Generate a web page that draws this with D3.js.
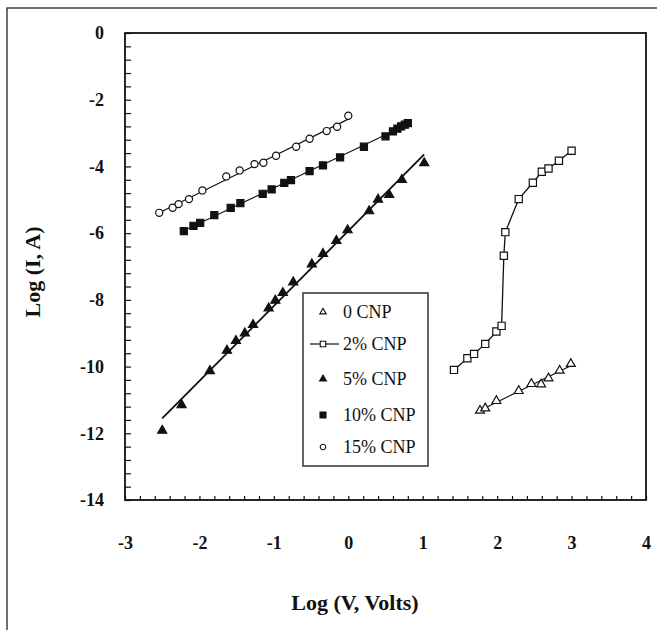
<!DOCTYPE html>
<html>
<head>
<meta charset="utf-8">
<script src="https://cdn.jsdelivr.net/npm/d3@7"></script>
<style>
  body { margin: 0; background: #fff; }
  text { font-family: "Liberation Serif", "Times New Roman", serif; }
</style>
</head>
<body>
<div id="chart"></div>
<script>
// data (log V, log I)
const cnp0X = [1.77, 1.84, 1.99, 2.29, 2.46, 2.59, 2.69, 2.84, 2.99];
const cnp0Y = [-11.32, -11.25, -11.03, -10.73, -10.52, -10.53, -10.35, -10.12, -9.92];

const cnp2X = [1.42, 1.60, 1.69, 1.84, 1.99, 2.06, 2.09, 2.11, 2.29, 2.48, 2.60, 2.69, 2.83, 3.00];
const cnp2Y = [-10.10, -9.75, -9.62, -9.32, -8.95, -8.78, -6.68, -5.97, -4.98, -4.49, -4.16, -4.06, -3.83, -3.53];

const cnp5X = [-2.50, -2.24, -1.86, -1.63, -1.51, -1.39, -1.28, -1.07, -0.98, -0.88, -0.74, -0.49, -0.34, -0.16, -0.01, 0.28, 0.40, 0.55, 0.72, 1.02];
const cnp5Y = [-11.92, -11.15, -10.13, -9.52, -9.23, -9.00, -8.75, -8.25, -8.02, -7.79, -7.47, -6.93, -6.62, -6.23, -5.91, -5.34, -4.99, -4.85, -4.40, -3.90];

const cnp10X = [-2.21, -2.08, -1.99, -1.80, -1.58, -1.45, -1.15, -1.03, -0.86, -0.77, -0.52, -0.34, -0.11, 0.21, 0.50, 0.60, 0.66, 0.71, 0.76, 0.80];
const cnp10Y = [-5.94, -5.78, -5.69, -5.46, -5.24, -5.10, -4.82, -4.69, -4.49, -4.41, -4.14, -3.97, -3.73, -3.41, -3.10, -2.95, -2.87, -2.80, -2.75, -2.70];

const cnp15X = [-2.54, -2.36, -2.28, -2.14, -1.96, -1.64, -1.46, -1.26, -1.14, -0.97, -0.70, -0.52, -0.29, -0.15, 0.00];
const cnp15Y = [-5.39, -5.24, -5.13, -4.98, -4.72, -4.30, -4.12, -3.93, -3.89, -3.68, -3.41, -3.17, -2.94, -2.81, -2.48];

const xTicks = [-3, -2, -1, 0, 1, 2, 3, 4];
const yTicks = [0, -2, -4, -6, -8, -10, -12, -14];
const legendLabels = ["0 CNP", "2% CNP", "5% CNP", "10% CNP", "15% CNP"];

const W = 657, H = 630;
const plot = { left: 125, right: 646, top: 33, bottom: 500 };

const svg = d3.select("#chart").append("svg")
  .attr("width", W).attr("height", H);

// outer figure frame (right/bottom edges fall outside the picture)
svg.append("rect")
  .attr("x", 7).attr("y", 8).attr("width", 700).attr("height", 700)
  .attr("fill", "none").attr("stroke", "#222").attr("stroke-width", 1.3);

const x = d3.scaleLinear().domain([-3, 4]).range([plot.left, plot.right]);
const y = d3.scaleLinear().domain([-14, 0]).range([plot.bottom, plot.top]);

// plain hyphen labels like the original
const fmt = d => String(d);

// minor ticks pointing inward
const xMinor = d3.range(-3, 4.001, 0.2).map(v => +v.toFixed(1));
const yMinor = d3.range(-14, 0.001, 0.4).map(v => +v.toFixed(1));

svg.append("g")
  .attr("transform", `translate(0,${plot.bottom})`)
  .call(d3.axisBottom(x).tickValues(xMinor).tickSize(-4).tickFormat(""))
  .call(g => g.select(".domain").remove())
  .selectAll("line").attr("stroke", "#111").attr("stroke-width", 1.2);

svg.append("g")
  .attr("transform", `translate(${plot.left},0)`)
  .call(d3.axisLeft(y).tickValues(yMinor).tickSize(-6).tickFormat(""))
  .call(g => g.select(".domain").remove())
  .selectAll("line").attr("stroke", "#111").attr("stroke-width", 1.2);

// tick labels
svg.append("g")
  .attr("transform", `translate(0,${plot.bottom})`)
  .call(d3.axisBottom(x).tickValues(xTicks).tickSize(0).tickPadding(36).tickFormat(fmt))
  .call(g => g.select(".domain").remove())
  .selectAll("text")
  .attr("font-family", "'Liberation Serif', serif")
  .attr("font-size", 18).attr("font-weight", "bold").attr("fill", "#111");

svg.append("g")
  .attr("transform", `translate(${plot.left},0)`)
  .call(d3.axisLeft(y).tickValues(yTicks).tickSize(0).tickPadding(21).tickFormat(fmt))
  .call(g => g.select(".domain").remove())
  .selectAll("text")
  .attr("font-family", "'Liberation Serif', serif")
  .attr("font-size", 18).attr("font-weight", "bold").attr("fill", "#111");

// plot frame
svg.append("rect")
  .attr("x", plot.left).attr("y", plot.top)
  .attr("width", plot.right - plot.left).attr("height", plot.bottom - plot.top)
  .attr("fill", "none").attr("stroke", "#111").attr("stroke-width", 1.8);

// axis titles
svg.append("text")
  .attr("x", 355).attr("y", 610)
  .attr("text-anchor", "middle")
  .attr("font-size", 22).attr("font-weight", "bold").attr("fill", "#111")
  .text("Log (V, Volts)");

svg.append("text")
  .attr("transform", "translate(40,272) rotate(-90)")
  .attr("text-anchor", "middle")
  .attr("font-size", 22).attr("font-weight", "bold").attr("fill", "#111")
  .text("Log (I, A)");

// least-squares trend line over the series range
function trend(xs, ys) {
  const n = xs.length;
  const mx = d3.mean(xs), my = d3.mean(ys);
  let sxy = 0, sxx = 0;
  for (let i = 0; i < n; i++) {
    sxy += (xs[i] - mx) * (ys[i] - my);
    sxx += (xs[i] - mx) ** 2;
  }
  const b = sxy / sxx, a = my - b * mx;
  const x0 = d3.min(xs), x1 = d3.max(xs);
  return [[x0, a + b * x0], [x1, a + b * x1]];
}

const line = d3.line().x(d => x(d[0])).y(d => y(d[1]));
const zip = (xs, ys) => xs.map((v, i) => [v, ys[i]]);

const series = [
  { xs: cnp0X, ys: cnp0Y, shape: d3.symbolTriangle, size: 34, fill: "#fff", kind: "trend", lw: 1.1 },
  { xs: cnp2X, ys: cnp2Y, shape: d3.symbolSquare, size: 52, fill: "#fff", kind: "path", lw: 1.3 },
  { xs: cnp5X, ys: cnp5Y, shape: d3.symbolTriangle, size: 36, fill: "#111", kind: "trend", lw: 1.8 },
  { xs: cnp10X, ys: cnp10Y, shape: d3.symbolSquare, size: 50, fill: "#111", kind: "trend", lw: 1.1 },
  { xs: cnp15X, ys: cnp15Y, shape: d3.symbolCircle, size: 40, fill: "#fff", kind: "trend", lw: 1.2 }
];

series.forEach(s => {
  const pts = zip(s.xs, s.ys);
  svg.append("path")
    .datum(s.kind === "trend" ? trend(s.xs, s.ys) : pts)
    .attr("d", line)
    .attr("fill", "none").attr("stroke", "#111").attr("stroke-width", s.lw);

  svg.append("g").selectAll("path")
    .data(pts)
    .enter().append("path")
    .attr("transform", d => `translate(${x(d[0])},${y(d[1])})`)
    .attr("d", d3.symbol().type(s.shape).size(s.size))
    .attr("fill", s.fill).attr("stroke", "#111").attr("stroke-width", 1.2);
});

// legend
const lg = svg.append("g").attr("transform", "translate(303,293)");
lg.append("rect")
  .attr("width", 125).attr("height", 173)
  .attr("fill", "#fff").attr("stroke", "#333").attr("stroke-width", 1.5);

const legendRows = [19, 51, 86, 122, 154];
const legendSizes = [18, 30, 20, 36, 24];
legendLabels.forEach((lab, i) => {
  const s = series[i];
  const row = lg.append("g").attr("transform", `translate(20,${legendRows[i]})`);
  if (s.kind === "path") {
    row.append("line").attr("x1", -13).attr("x2", 16)
      .attr("stroke", "#111").attr("stroke-width", 1.2);
  }
  row.append("path")
    .attr("d", d3.symbol().type(s.shape).size(legendSizes[i]))
    .attr("fill", s.fill).attr("stroke", "#111").attr("stroke-width", 1.1);
  row.append("text")
    .attr("x", 20).attr("y", 6)
    .attr("font-size", 18).attr("fill", "#111")
    .text(lab);
});
</script>
</body>
</html>
